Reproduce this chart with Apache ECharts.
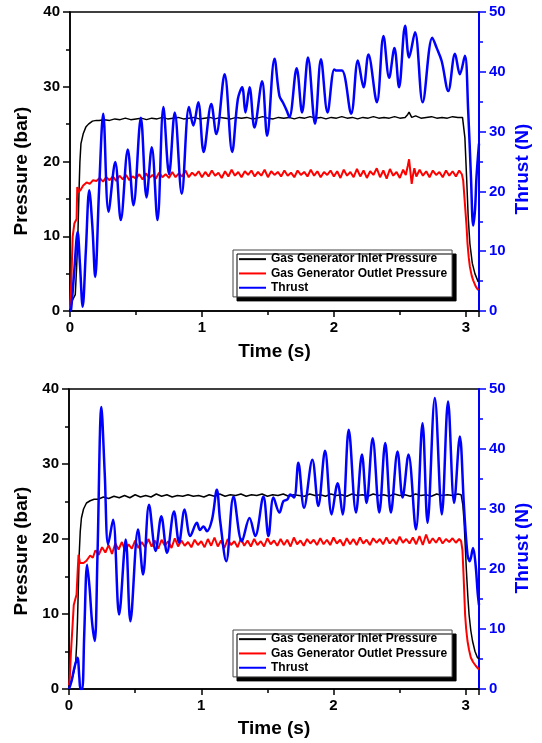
<!DOCTYPE html>
<html><head><meta charset="utf-8">
<script src="https://cdn.jsdelivr.net/npm/echarts@6/dist/echarts.min.js"></script>
<style>html,body{margin:0;padding:0;background:#fff}#c{width:542px;height:743px}</style>
</head><body><div id="c"></div>
<script>
// ---------- data ----------
const xTickLabels = ['0', '1', '2', '3'];
const pressureTicks = [0, 10, 20, 30, 40];
const thrustTicks = [0, 10, 20, 30, 40, 50];
const legendNames = ['Gas Generator Inlet Pressure', 'Gas Generator Outlet Pressure', 'Thrust'];

// Top panel
const topInlet = [[0,0],[0.015,1.3],[0.04,2.2],[0.05,5.8],[0.058,9],[0.063,12.4],[0.07,17],[0.075,19.9],[0.083,22.4],[0.1,23.7],[0.12,24.6],[0.14,25.0],[0.17,25.4],[0.2,25.5],
[0.22,25.5],[0.26,25.6],[0.30,25.5],[0.34,25.7],[0.38,25.6],[0.42,25.8],[0.46,25.6],[0.50,25.7],[0.54,25.8],[0.58,25.6],[0.62,25.8],[0.66,25.7],[0.70,25.9],[0.74,25.7],[0.78,25.8],[0.82,25.9],[0.86,25.7],[0.90,25.8],[0.94,25.9],[0.98,25.7],[1.02,25.8],[1.06,25.9],[1.10,25.7],[1.14,25.9],[1.18,25.8],[1.22,25.7],[1.26,25.9],[1.30,25.8],[1.34,25.9],[1.38,25.7],[1.42,25.8],[1.46,26.0],[1.50,25.8],[1.54,25.7],[1.58,25.9],[1.62,25.8],[1.66,25.9],[1.70,25.7],[1.74,25.9],[1.78,25.8],[1.82,26.0],[1.86,25.8],[1.90,25.9],[1.94,25.7],[1.98,25.9],[2.02,25.8],[2.06,26.0],[2.10,25.8],[2.14,25.9],[2.18,25.7],[2.22,25.9],[2.26,25.8],[2.30,26.0],[2.34,25.8],[2.38,25.9],[2.42,25.8],[2.46,26.0],[2.50,25.8],[2.54,25.9],[2.56,26.3],[2.57,26.6],[2.59,25.9],[2.62,26.1],[2.66,25.8],[2.70,25.9],[2.74,26.0],[2.78,25.8],[2.82,25.9],[2.86,25.8],[2.90,26.0],[2.94,25.9],[2.975,25.9],
[2.993,23.2],[3.006,17.9],[3.018,12.6],[3.031,9],[3.049,6.4],[3.069,5.0],[3.094,3.9]];

const topOutlet = [[0,0.3],[0.01,4],[0.02,9.9],[0.033,11.7],[0.05,12.3],[0.055,16.6],[0.065,15.9],[0.08,16.2],[0.1,16.8],[0.126,17.2],[0.15,17.0],[0.175,17.5],
[0.200,17.4],[0.225,17.8],[0.250,17.3],[0.275,17.9],[0.300,17.5],[0.325,18.0],[0.350,17.4],[0.375,18.1],[0.400,17.6],[0.425,18.2],[0.450,17.5],[0.475,18.0],[0.500,17.7],[0.525,18.3],[0.550,17.6],[0.575,18.4],[0.600,17.8],[0.625,18.2],[0.650,17.7],[0.675,18.5],[0.700,17.9],[0.725,18.3],[0.750,17.8],[0.775,18.6],[0.800,17.9],[0.825,18.4],[0.850,18.0],[0.875,18.8],[0.900,17.9],[0.925,18.5],[0.950,18.1],[0.975,18.7],[1.000,17.9],[1.025,18.6],[1.050,18.0],[1.075,18.8],[1.100,18.1],[1.125,18.5],[1.150,17.8],[1.175,18.7],[1.200,18.0],[1.225,18.9],[1.250,18.1],[1.275,18.6],[1.300,17.9],[1.325,18.7],[1.350,18.2],[1.375,18.8],[1.400,18.0],[1.425,18.6],[1.450,18.1],[1.475,18.9],[1.500,17.9],[1.525,18.7],[1.550,18.2],[1.575,18.6],[1.600,18.0],[1.625,18.8],[1.650,18.1],[1.675,18.5],[1.700,17.9],[1.725,18.8],[1.750,18.2],[1.775,18.6],[1.800,18.0],[1.825,18.9],[1.850,18.1],[1.875,18.7],[1.900,17.9],[1.925,18.6],[1.950,18.2],[1.975,18.8],[2.000,18.0],[2.025,18.7],[2.050,17.8],[2.075,18.9],[2.100,18.1],[2.125,18.6],[2.150,17.9],[2.175,19.0],[2.200,18.0],[2.225,18.8],[2.250,17.8],[2.275,18.7],[2.300,18.2],[2.325,19.1],[2.350,17.9],[2.375,18.8],[2.400,17.7],[2.425,19.0],[2.450,18.1],[2.475,18.6],[2.500,17.8],[2.525,18.9],[2.545,18.2],[2.560,19.4],[2.570,20.3],[2.580,18.6],[2.590,17.0],[2.600,18.2],[2.610,19.1],[2.625,18.0],[2.650,18.9],[2.675,18.1],[2.700,18.7],[2.725,17.9],[2.750,18.8],[2.775,18.2],[2.800,18.6],[2.825,17.9],[2.850,18.8],[2.875,18.1],[2.900,18.7],[2.925,18.0],[2.950,18.8],[2.970,18.3],
[2.98,17.5],[2.993,14.4],[3.005,11.5],[3.013,9],[3.022,7.2],[3.031,5.9],[3.045,4.7],[3.056,4.1],[3.075,3.3],[3.094,2.8]];

const topThrust = [[0,0],[0.008,0.2],[0.03,6],[0.058,13.2],[0.075,8],[0.096,0.7],[0.12,10],[0.146,20.2],[0.17,14],[0.191,5.7],[0.22,20],[0.252,33.0],[0.292,16.6],[0.343,24.9],[0.385,15.2],[0.438,27.0],[0.481,17.7],[0.537,32.3],[0.58,19.0],[0.62,27.4],[0.663,15.2],[0.708,34.1],[0.751,22.9],[0.794,33.2],[0.847,19.6],[0.902,34.1],[0.935,31],[0.972,34.9],[1.013,26.6],[1.071,34.6],[1.109,29.6],[1.172,39.6],[1.229,26.6],[1.272,35.4],[1.305,37.4],[1.330,33.2],[1.361,37.4],[1.398,30.7],[1.456,38.4],[1.494,29.3],[1.550,42.2],[1.587,36],[1.613,34.9],[1.643,33.5],[1.663,32.4],[1.718,40.6],[1.759,33.2],[1.804,42.4],[1.857,31.3],[1.902,42.1],[1.952,33.2],[2.003,40.4],[2.02,40.2],[2.061,40.2],[2.131,33],[2.182,41.9],[2.225,37.4],[2.262,42.9],[2.326,34.9],[2.376,46],[2.419,39],[2.459,44],[2.494,37.4],[2.540,47.7],[2.570,42.4],[2.615,46.6],[2.673,34.9],[2.746,45.7],[2.779,44],[2.817,41.8],[2.867,36.8],[2.918,43],[2.955,39.6],[2.993,42.7],[3.018,33.5],[3.039,22.4],[3.056,14.3],[3.07,17],[3.081,22.4],[3.1,28]];

// Bottom panel
const botInlet = [[0,0.5],[0.019,1.1],[0.04,2.5],[0.051,3.7],[0.058,6],[0.064,9],[0.07,13],[0.077,17.9],[0.085,21],[0.094,22.8],[0.11,24],[0.132,24.8],[0.16,25.1],[0.19,25.3],
[0.22,25.3],[0.26,25.6],[0.30,25.4],[0.34,25.7],[0.38,25.5],[0.42,25.8],[0.46,25.5],[0.50,25.9],[0.54,25.6],[0.58,25.8],[0.62,25.6],[0.66,26.0],[0.70,25.7],[0.74,25.9],[0.78,25.6],[0.82,25.8],[0.86,25.7],[0.90,25.9],[0.94,25.7],[0.98,25.8],[1.02,25.6],[1.06,25.9],[1.10,25.7],[1.14,26.0],[1.18,25.7],[1.22,25.9],[1.26,25.8],[1.30,26.0],[1.34,25.7],[1.38,25.9],[1.42,25.8],[1.46,26.0],[1.50,25.7],[1.54,25.9],[1.58,25.8],[1.62,26.0],[1.66,25.7],[1.70,25.9],[1.74,25.8],[1.78,25.7],[1.82,26.0],[1.86,25.8],[1.90,25.9],[1.94,25.7],[1.98,26.0],[2.02,25.8],[2.06,25.9],[2.10,25.7],[2.14,26.0],[2.18,25.8],[2.22,25.9],[2.26,25.7],[2.30,26.0],[2.34,25.8],[2.38,25.9],[2.42,25.7],[2.46,26.0],[2.50,25.8],[2.54,25.9],[2.58,25.7],[2.62,26.0],[2.66,25.8],[2.70,25.9],[2.74,25.7],[2.78,26.0],[2.82,25.8],[2.86,25.9],[2.90,25.8],[2.94,26.0],[2.965,25.9],
[2.978,24.5],[2.987,22.4],[3.005,15.7],[3.015,12.5],[3.025,9.9],[3.038,7.8],[3.051,6.4],[3.07,5.0],[3.088,4.2],[3.1,4.0]];

const botOutlet = [[0,0.5],[0.006,1.5],[0.015,5],[0.026,8.2],[0.036,11.2],[0.057,12.6],[0.065,15.5],[0.072,17.9],[0.083,16.8],[0.094,16.6],[0.11,16.8],[0.132,17.1],[0.16,17.8],[0.18,17.5],
[0.200,18.5],[0.225,17.9],[0.250,18.9],[0.275,18.2],[0.300,19.2],[0.325,18.0],[0.350,19.4],[0.375,18.6],[0.400,19.6],[0.425,18.4],[0.450,19.3],[0.475,18.7],[0.500,19.8],[0.525,18.8],[0.550,19.6],[0.575,18.9],[0.600,20.0],[0.625,19.0],[0.650,19.8],[0.675,18.7],[0.700,19.9],[0.725,19.1],[0.750,19.7],[0.775,18.8],[0.800,20.1],[0.825,19.0],[0.850,19.8],[0.875,19.1],[0.900,19.6],[0.925,18.9],[0.950,19.9],[0.975,19.2],[1.000,19.7],[1.025,18.9],[1.050,20.0],[1.075,19.1],[1.100,20.2],[1.125,19.0],[1.150,19.8],[1.175,18.8],[1.200,20.0],[1.225,19.2],[1.250,19.7],[1.275,18.9],[1.300,20.1],[1.325,19.1],[1.350,19.8],[1.375,19.0],[1.400,20.0],[1.425,19.2],[1.450,19.7],[1.475,19.0],[1.500,20.1],[1.525,19.3],[1.550,19.8],[1.575,19.1],[1.600,20.0],[1.625,19.2],[1.650,19.9],[1.675,19.0],[1.700,20.2],[1.725,19.3],[1.750,19.8],[1.775,19.1],[1.800,20.0],[1.825,19.4],[1.850,19.9],[1.875,19.2],[1.900,20.1],[1.925,19.3],[1.950,19.9],[1.975,19.2],[2.000,20.2],[2.025,19.4],[2.050,19.9],[2.075,19.1],[2.100,20.1],[2.125,19.3],[2.150,20.0],[2.175,19.2],[2.200,20.2],[2.225,19.4],[2.250,19.9],[2.275,19.2],[2.300,20.1],[2.325,19.5],[2.350,20.0],[2.375,19.3],[2.400,20.2],[2.425,19.4],[2.450,20.0],[2.475,19.3],[2.500,20.3],[2.525,19.5],[2.550,20.0],[2.575,19.4],[2.600,20.2],[2.625,19.3],[2.650,20.4],[2.675,19.2],[2.700,20.6],[2.725,19.4],[2.750,20.1],[2.775,19.5],[2.800,20.2],[2.825,19.4],[2.850,20.0],[2.875,19.6],[2.900,20.1],[2.925,19.5],[2.950,20.0],[2.965,19.7],
[2.975,18.5],[2.983,15.3],[2.995,9.9],[3.003,8.0],[3.013,6.4],[3.025,5.2],[3.038,4.2],[3.055,3.6],[3.075,3.1],[3.1,2.6]];

const botThrust = [[0,0],[0.019,1.3],[0.04,3.5],[0.064,5.2],[0.078,2],[0.087,0],[0.1,0],[0.115,9],[0.137,20.7],[0.155,17],[0.175,11],[0.195,8.0],[0.215,22],[0.245,47],[0.27,36],[0.296,24.1],[0.333,28.2],[0.379,12.4],[0.429,24.9],[0.464,11.3],[0.522,26.6],[0.56,19.1],[0.605,30.7],[0.655,23.0],[0.698,28.8],[0.741,22.7],[0.794,29.6],[0.832,24.4],[0.874,29.9],[0.917,25.5],[0.967,27.7],[0.99,26.5],[1.017,27.1],[1.043,26.3],[1.081,28.2],[1.118,33.2],[1.143,28],[1.189,21.3],[1.244,32.1],[1.307,24.6],[1.365,28.5],[1.408,25.5],[1.47,32.1],[1.508,25.5],[1.546,31.9],[1.591,29.4],[1.621,31.3],[1.651,31.6],[1.672,32.4],[1.702,31.9],[1.734,37.7],[1.777,30.2],[1.84,38.2],[1.885,30.5],[1.936,39.7],[1.986,29.1],[2.031,34.3],[2.069,29.1],[2.115,43.2],[2.17,29.4],[2.215,39.1],[2.25,31.0],[2.296,41.8],[2.346,29.4],[2.391,41],[2.434,29.4],[2.484,39.6],[2.522,31.9],[2.567,39.1],[2.623,26.6],[2.673,44.3],[2.711,27.7],[2.766,48.5],[2.819,29.1],[2.866,47.9],[2.912,31.0],[2.955,42.1],[2.987,30.2],[3.013,22.4],[3.03,21.3],[3.055,23.5],[3.075,20.5],[3.09,16],[3.1,14]];

// ---------- chart ----------
const FF = 'Liberation Sans, Arial, Helvetica, sans-serif';
const BLUE = '#0000ff';
const chart = echarts.init(document.getElementById('c'), null, {renderer: 'canvas'});

function xAxis(gi, gap) {
  return {
    type: 'value', gridIndex: gi, min: 0, max: 3.1, interval: 1,
    name: 'Time (s)', nameLocation: 'middle', nameGap: gap,
    nameTextStyle: {fontFamily: FF, fontWeight: 'bold', fontSize: 19, color: '#000'},
    axisLine: {onZero: false, lineStyle: {color: '#000', width: 1.5}},
    axisTick: {length: 6, lineStyle: {color: '#000', width: 1.5}},
    minorTick: {show: true, splitNumber: 2, length: 4, lineStyle: {color: '#000', width: 1.5}},
    splitLine: {show: false}, minorSplitLine: {show: false},
    axisLabel: {margin: 9, fontFamily: FF, fontWeight: 'bold', fontSize: 15, color: '#000', showMaxLabel: false,
      formatter: v => xTickLabels.indexOf(String(v)) >= 0 ? String(v) : ''}
  };
}
function yLeft(gi) {
  return {
    type: 'value', gridIndex: gi, min: 0, max: 40, interval: 10, position: 'left',
    axisLine: {show: true, onZero: false, lineStyle: {color: '#000', width: 1.5}},
    axisTick: {show: true, length: 7, lineStyle: {color: '#000', width: 1.5}},
    minorTick: {show: true, splitNumber: 2, length: 4, lineStyle: {color: '#000', width: 1.5}},
    splitLine: {show: false}, minorSplitLine: {show: false},
    axisLabel: {margin: 10, fontFamily: FF, fontWeight: 'bold', fontSize: 15, color: '#000',
      formatter: v => pressureTicks.indexOf(v) >= 0 ? String(v) : ''}
  };
}
function yRight(gi) {
  return {
    type: 'value', gridIndex: gi, min: 0, max: 50, interval: 10, position: 'right',
    axisLine: {show: true, onZero: false, lineStyle: {color: BLUE, width: 2}},
    axisTick: {show: true, length: 7, lineStyle: {color: BLUE, width: 1.5}},
    minorTick: {show: true, splitNumber: 2, length: 4, lineStyle: {color: BLUE, width: 1.5}},
    splitLine: {show: false}, minorSplitLine: {show: false},
    axisLabel: {margin: 10, fontFamily: FF, fontWeight: 'bold', fontSize: 15, color: BLUE,
      formatter: v => thrustTicks.indexOf(v) >= 0 ? String(v) : ''}
  };
}
function legend(top) {
  return {
    data: legendNames.map(n => ({name: n, icon: 'rect'})),
    orient: 'vertical', left: 233, top: top,
    itemWidth: 27, itemHeight: 2, itemGap: 0,
    padding: [2, 5, 2, 6],
    backgroundColor: '#fff', borderColor: '#444', borderWidth: 1,
    shadowColor: '#000', shadowOffsetX: 4, shadowOffsetY: 4, shadowBlur: 0,
    selectedMode: false,
    textStyle: {fontFamily: FF, fontWeight: 'bold', fontSize: 12, color: '#000', lineHeight: 14.3}
  };
}
function line(name, data, xi, yi, color, w, smooth) {
  return {name, type: 'line', data, xAxisIndex: xi, yAxisIndex: yi, showSymbol: false, symbol: 'none',
    smooth: smooth || false, lineStyle: {color, width: w}, itemStyle: {color}, animation: false};
}
function vtext(txt, x, y, color) {
  return {type: 'text', x, y, rotation: Math.PI / 2,
    style: {text: txt, fill: color, font: 'bold 19px ' + FF, textAlign: 'center', textVerticalAlign: 'middle'}};
}

chart.setOption({
  animation: false,
  backgroundColor: '#fff',
  grid: [
    {left: 70, top: 12, width: 409, height: 299, show: true, borderColor: '#000', borderWidth: 1.5, containLabel: false},
    {left: 69, top: 389, width: 410, height: 300, show: true, borderColor: '#000', borderWidth: 1.5, containLabel: false}
  ],
  xAxis: [xAxis(0, 31), xAxis(1, 30)],
  yAxis: [yLeft(0), yRight(0), yLeft(1), yRight(1)],
  legend: [legend(250), legend(630)],
  series: [
    line(legendNames[0], topInlet, 0, 0, '#000', 1.5),
    line(legendNames[1], topOutlet, 0, 0, '#ff0000', 2),
    line(legendNames[2], topThrust, 0, 1, BLUE, 2.5, 0.35),
    line(legendNames[0], botInlet, 1, 2, '#000', 1.5),
    line(legendNames[1], botOutlet, 1, 2, '#ff0000', 2),
    line(legendNames[2], botThrust, 1, 3, BLUE, 2.5, 0.35)
  ],
  graphic: [
    vtext('Pressure (bar)', 22, 171, '#000'),
    vtext('Thrust (N)', 523, 169, BLUE),
    vtext('Pressure (bar)', 22, 551, '#000'),
    vtext('Thrust (N)', 523, 548, BLUE)
  ]
});
</script></body></html>
